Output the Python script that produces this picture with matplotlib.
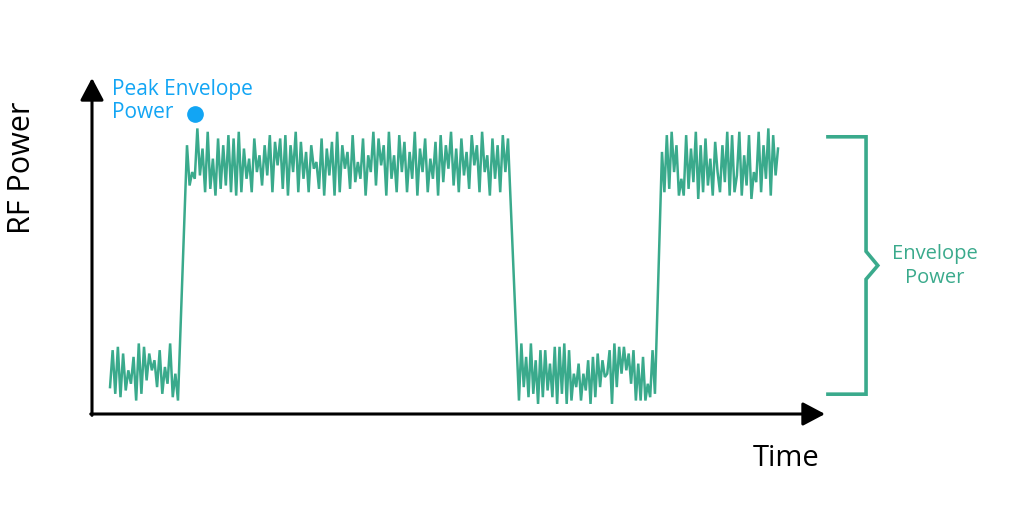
import numpy as np
import matplotlib
matplotlib.use("Agg")
import matplotlib.pyplot as plt

# ---- data (power in arbitrary units 0-100, time 0-100) ----
seg_low1 = [8, 19, 6, 20, 5, 18, 7, 13, 9, 17, 4, 21, 6, 20, 10, 18, 13, 16, 8, 19, 6, 14, 9, 21, 5, 12, 4]
seg_high1 = [80, 68, 72, 70, 85, 71, 79, 66, 84, 67, 76, 65, 82, 67, 80, 68, 83, 66, 82, 65,
             84, 66, 79, 70, 76, 66, 82, 72, 77, 68, 80, 71, 83, 66, 81, 74, 82, 67, 83, 65,
             80, 72, 84, 66, 81, 70, 78, 66, 80, 73, 75, 67, 82, 65, 79, 71, 81, 65, 84, 66,
             80, 73, 78, 67, 83, 69, 75, 70, 82, 65, 77, 72, 84, 68, 82, 74, 80, 65, 84, 70,
             77, 66, 83, 72, 81, 66, 78, 70, 84, 65, 79, 72, 82, 66, 76, 70, 81, 65, 83, 69,
             80, 73, 84, 68, 79, 66, 82, 71, 78, 67, 83, 74, 80, 66, 84, 72, 77, 65, 82, 70,
             80, 66, 83, 72, 82]
seg_low2 = [4, 21, 8, 17, 5, 21, 6, 16, 3, 19, 5, 19, 7, 15, 5, 20, 3, 20, 6, 21, 3, 19, 4, 12,
            8, 15, 4, 12, 7, 16, 3, 17, 5, 18, 8, 16, 11, 12, 19, 3, 21, 8, 20, 12, 20, 13, 18,
            9, 19, 4, 15, 4, 17, 4, 9, 5, 19, 6]
seg_high3 = [78, 66, 83, 67, 84, 72, 80, 65, 70, 65, 83, 67, 79, 69, 84, 64, 80, 66, 82, 68,
             76, 65, 81, 72, 66, 80, 69, 84, 65, 83, 66, 71, 84, 65, 77, 68, 83, 64, 72, 69,
             84, 66, 80, 70, 85, 65, 83, 71, 79]
seg_spans = [(2.46, 11.73), (12.96, 56.75), (58.25, 76.8), (77.76, 93.59)]
peak_point = (14.05, 89.3)

TEAL = "#3aaa8c"
BLUE = "#12a5f4"

plt.rcParams['font.family'] = ['Open Sans', 'DejaVu Sans']

fig = plt.figure(figsize=(10.24, 5.12), dpi=100)
W, H = 1024, 512
x0, x1, y0, y1 = 92, 825, 414, 78
ax = fig.add_axes([x0 / W, (H - y0) / H, (x1 - x0) / W, (y0 - y1) / H])
ax.set_xlim(0, 100)
ax.set_ylim(0, 100)
ax.axis('off')

t_all, v_all = [], []
for seg, (a, b) in zip([seg_low1, seg_high1, seg_low2, seg_high3], seg_spans):
    t_all.extend(np.linspace(a, b, len(seg)))
    v_all.extend(seg)
ax.plot(t_all, v_all, color=TEAL, lw=1.8, clip_on=False, solid_joinstyle='miter')

# axes arrows
arrow_kw = dict(arrowstyle='-|>,head_length=0.85,head_width=0.45', color='black',
                lw=2.2, mutation_scale=16, shrinkA=0, shrinkB=0)
ax.annotate('', xy=(0, 1.0), xytext=(0, -0.004), xycoords='axes fraction', arrowprops=arrow_kw)
ax.annotate('', xy=(1.0, 0), xytext=(-0.0017, 0), xycoords='axes fraction', arrowprops=arrow_kw)

# peak envelope power
ax.plot([peak_point[0]], [peak_point[1]], 'o', color=BLUE, ms=11, clip_on=False)
fig.text(112 / W, 1 - 79 / H, "Peak Envelope\nPower", color=BLUE, fontsize=15,
         va='top', ha='left', linespacing=1.1)

# bracket
bx = [100.4, 105.6, 105.6, 107.2, 105.6, 105.6, 100.4]
by = [82.5, 82.5, 48.4, 44.2, 40.1, 5.9, 5.9]
ax.plot(bx, by, color=TEAL, lw=2.6, clip_on=False, solid_joinstyle='miter')
fig.text(935 / W, 1 - 266 / H, "Envelope\nPower", color=TEAL, fontsize=14.5,
         va='center', ha='center', linespacing=1.25)

# axis labels
fig.text(22 / W, 1 - 168 / H, "RF Power", rotation=90, fontsize=22, va='center', ha='center')
fig.text(786 / W, 1 - 458 / H, "Time", fontsize=21, va='center', ha='center')

fig.savefig("out.png", dpi=100)
